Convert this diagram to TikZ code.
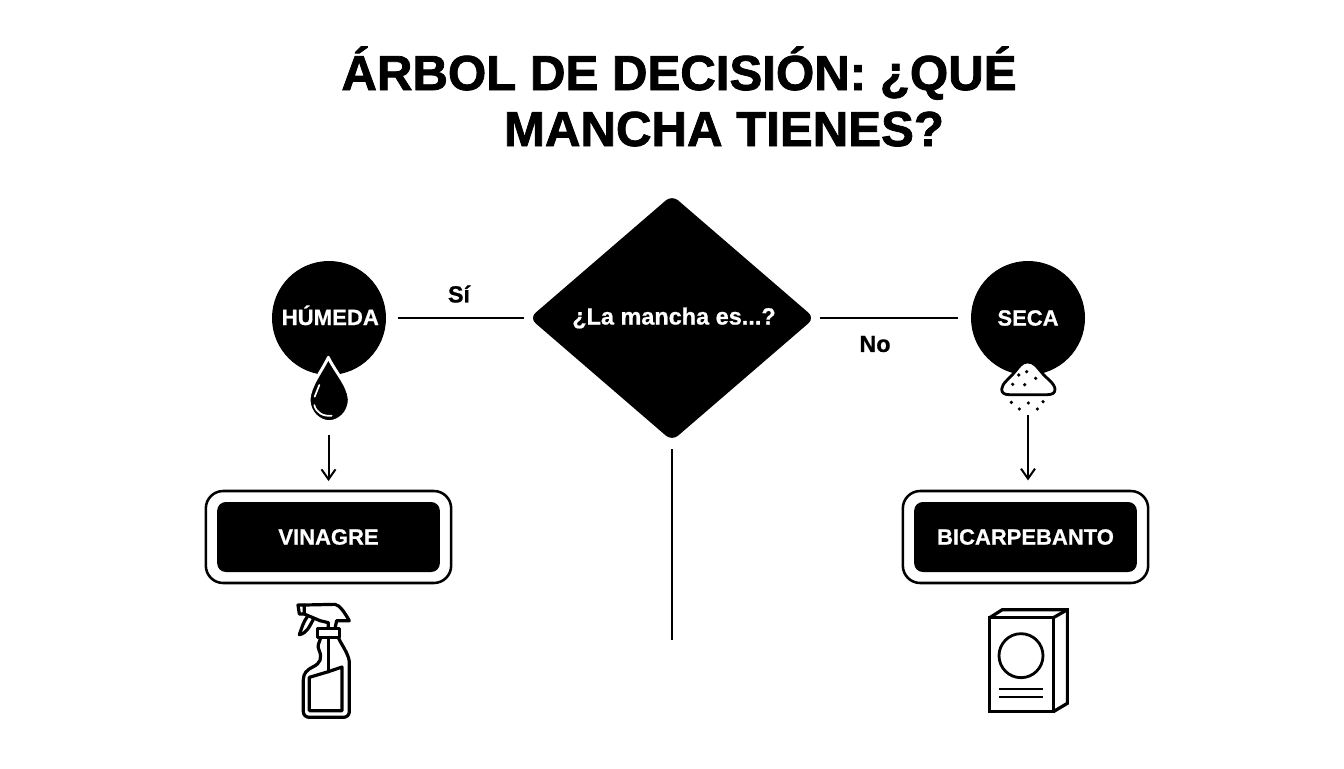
\documentclass[tikz,border=0pt]{standalone}
\usepackage{fontspec}
\setmainfont{Liberation Sans}
\newfontfamily\heavy[FakeBold=1.6]{Liberation Sans Bold}
\newfontfamily\semi[FakeBold=0.8]{Liberation Sans Bold}
\usetikzlibrary{arrows.meta,shapes.geometric}
\tikzset{
  ttl/.style={font=\heavy\fontsize{36.9}{36}\selectfont,text=black,inner sep=0pt,anchor=base},
  blk/.style={fill=black,draw=none,text=white,font=\semi\fontsize{16.5}{18}\selectfont,inner sep=0pt},
  disc/.style={blk,circle,minimum size=85.5pt},
  decide/.style={blk,diamond,minimum width=214pt,minimum height=184.5pt,rounded corners=6pt,text width=0pt,align=center},
  outerbox/.style={draw=black,line width=1.9pt,fill=white,rounded corners=13pt,minimum width=184pt,minimum height=69pt,inner sep=0pt},
  innerbox/.style={blk,rounded corners=6.5pt,minimum width=167pt,minimum height=52.5pt},
  conn/.style={draw=black,line width=1.5pt},
  arr/.style={conn,-{Straight Barb[length=7.5pt,width=10.5pt,line width=1.5pt]}},
  lab/.style={font=\semi\fontsize{17.5}{20}\selectfont,inner sep=0pt},
  icon/.style={draw=black,line width=2.4pt,line join=round,line cap=round},
  iconthin/.style={draw=black,line width=2.1pt,line join=miter},
}
\begin{document}
\begin{tikzpicture}[x=.75pt,y=-.75pt]
\useasboundingbox (0,0) rectangle (1344,768);
\fill[white] (0,0) rectangle (1344,768);
% title
\node[ttl] (t1) at (679,90) {ÁRBOL DE DECISIÓN: ¿QUÉ};
\node[ttl] (t2) at (724,146) {MANCHA TIENES?};
% nodes
\node[decide] (d) at (672,318) {};
\node[font=\semi\fontsize{17.6}{20}\selectfont,text=white,inner sep=0pt] (dl) at (674,318) {¿La mancha es...?};
\node[disc,font=\semi\fontsize{16.6}{18}\selectfont] (h) at (329,318) {\smash{\makebox[0pt]{\hspace*{2pt}\raisebox{-5.25pt}{HÚMEDA}}}};
\node[disc] (s) at (1028,318) {SECA};
\node[outerbox] (ov) at (328.5,537) {};
\node[innerbox] (iv) at (328.5,537) {VINAGRE};
\node[outerbox] (ob) at (1025.5,537) {};
\node[innerbox] (ib) at (1025.5,537) {BICARPEBANTO};
\coordinate (e) at (672,640);
% connectors
\draw[conn,shorten <=3.75pt,shorten >=8.5pt] (d.west) -- (h.east);
\draw[conn,shorten <=3.75pt,shorten >=9.75pt] (d.east) -- (s.west);
\draw[conn,shorten <=6pt] (d.south) -- (e);
\draw[arr,shorten <=45pt,shorten >=6.5pt] (h.south -| iv.north) -- (ov.north);
\draw[arr,shorten <=30pt,shorten >=7pt] (s.south) -- (s.south |- ob.north);
\node[lab] (si) at (459,294) {Sí};
\node[lab] (no) at (875,344) {No};
% drop
\begin{scope}[shift={(260,250)},x=.25pt,y=-.25pt]
\filldraw[fill=black,draw=white,line width=2.2pt,line join=round]
  (205,322) .. controls (185,365) and (150,405) .. (147,448)
  .. controls (147,490) and (180,515) .. (207,515)
  .. controls (235,515) and (268,490) .. (268,448)
  .. controls (265,405) and (225,365) .. (205,322) -- cycle;
\draw[white,line width=1.3pt,line cap=round] (178,405) -- (164,440);
\draw[white,line width=1.3pt,line cap=round] (163,465) .. controls (168,488) and (190,500) .. (215,497);
\end{scope}
% pile
\begin{scope}[shift={(960,250)},x=.25pt,y=-.25pt]
\filldraw[fill=white,draw=black,line width=2.1pt,line join=round]
  (203,336) .. controls (185,336) and (178,350) .. (165,365)
  .. controls (150,385) and (125,400) .. (125,418)
  .. controls (125,430) and (135,434) .. (148,434)
  -- (262,434) .. controls (275,434) and (285,430) .. (285,418)
  .. controls (285,400) and (258,385) .. (243,365)
  .. controls (230,350) and (222,336) .. (203,336) -- cycle;
\foreach \p in {(176,375),(200,365),(227,385),(158,403),(194,404),(154,457),(205,459),(249,455),(178,477),(232,477)}
  \fill[black] \p circle[radius=5.5];
\end{scope}
% spray bottle
\begin{scope}[shift={(270,590)},x=.25pt,y=-.25pt]
\draw[icon] (103,45) -- (195,43) .. controls (210,45) and (225,70) .. (238,92)
  -- (200,92) -- (195,115) ;
\draw[icon] (84,45) -- (103,45) -- (103,72) -- (88,72) -- cycle;
\draw[icon] (103,72) -- (150,92) -- (175,98) -- (175,115);
\draw[icon] (112,80) .. controls (100,95) and (95,115) .. (88,134)
  .. controls (110,130) and (118,110) .. (130,88);
\draw[icon] (143,115) rectangle (208,143);
\draw[icon] (152,143) .. controls (148,160) and (140,165) .. (147,180)
  .. controls (158,205) and (150,220) .. (130,230)
  .. controls (110,240) and (100,250) .. (100,270)
  -- (100,365) .. controls (100,375) and (108,382) .. (118,382)
  -- (220,382) .. controls (230,382) and (238,375) .. (238,365)
  -- (238,215) .. controls (235,190) and (215,165) .. (205,143);
\draw[icon] (175,143) -- (175,245);
\draw[icon] (118,262) -- (175,245) -- (216,231) -- (216,362) -- (118,362) -- cycle;
\end{scope}
% box
\begin{scope}[shift={(970,595)},x=.25pt,y=-.25pt]
\draw[iconthin,line width=2.4pt] (59,68) rectangle (250,350);
\draw[iconthin,line width=2.4pt] (59,68) -- (97,44) -- (292,44) -- (292,325) -- (250,350);
\draw[iconthin,line width=2.4pt] (250,68) -- (292,44);
\draw[iconthin] (153,182) circle[radius=66];
\draw[iconthin] (88,282) -- (218,282);
\draw[iconthin] (88,306) -- (218,306);
\end{scope}
\end{tikzpicture}
\end{document}
